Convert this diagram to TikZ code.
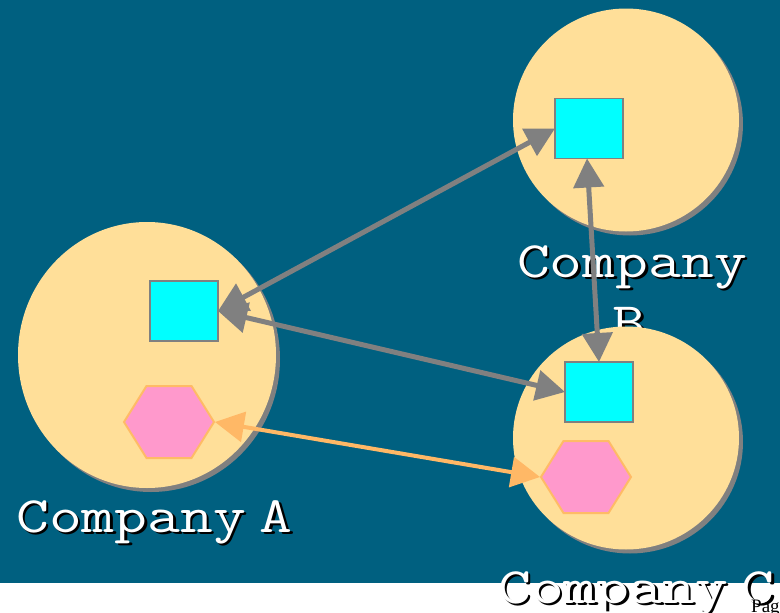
\documentclass[tikz,border=0pt]{standalone}
\usepackage{fontspec}
\usepackage{graphicx}
\newfontfamily\pagefont{Liberation Serif}
\usetikzlibrary{arrows.meta}
\definecolor{bgblue}{RGB}{0,96,128}
\definecolor{sand}{RGB}{255,223,153}
\definecolor{shadowgray}{RGB}{128,128,128}
\definecolor{boxcyan}{RGB}{0,255,255}
\definecolor{hexpink}{RGB}{255,153,204}
\definecolor{hexedge}{RGB}{255,187,102}
\definecolor{arrgray}{RGB}{128,128,128}
\definecolor{arrorange}{RGB}{255,184,102}
\newcommand{\widelab}[1]{\scalebox{1.25}[1]{#1}}
\tikzset{
  companyfill/.style={fill=sand},
  companyshadow/.style={fill=shadowgray},
  sysbox/.style={draw=shadowgray, line width=1.5pt, fill=boxcyan, minimum width=68pt, minimum height=60pt, inner sep=0pt, outer sep=0pt},
  hexshape/.style={draw=hexedge, line width=2pt, fill=hexpink, line join=miter},
  grayarrow/.style={draw=arrgray, line width=5pt, {Triangle[length=29pt,width=30pt]}-{Triangle[length=29pt,width=30pt]}},
  orangearrow/.style={draw=arrorange, line width=4pt, {Triangle[length=29pt,width=30pt]}-{Triangle[length=29pt,width=30pt]}},
  labtext/.style={text=white, font=\ttfamily\fontsize{51}{60}\selectfont, inner sep=0pt},
  labshadow/.style={text=black, font=\ttfamily\fontsize{51}{60}\selectfont, inner sep=0pt},
}
\begin{document}
\begin{tikzpicture}[x=1pt,y=-1pt]
\useasboundingbox (0,0) rectangle (780,613);
\fill[white] (0,0) rectangle (780,613);
\fill[bgblue] (0,0) rectangle (780,583);
% Company A
\fill[companyshadow] (151,359) ellipse [x radius=129, y radius=133];
\fill[companyfill] (147,355) ellipse [x radius=129, y radius=133];
% Company B
\fill[companyshadow] (630,124) ellipse [x radius=113, y radius=111.5];
\fill[companyfill] (626,120) ellipse [x radius=113, y radius=111.5];
% label B
\node[labshadow, anchor=base] (labBs) at (634.5,279.5) {\widelab{Company}};
\node[labtext, anchor=base] (labB) at (632,277) {\widelab{Company}};
\node[labshadow, anchor=base] (labBs2) at (631.5,340.5) {\widelab{B}};
\node[labtext, anchor=base] (labB2) at (629,338) {\widelab{B}};
% Company C
\fill[companyshadow] (630,442) ellipse [x radius=113, y radius=111.5];
\fill[companyfill] (626,438) ellipse [x radius=113, y radius=111.5];
% boxes
\node[sysbox] (sqA) at (184,311) {};
\node[sysbox] (sqB) at (589,128.5) {};
\node[sysbox] (sqC) at (599,392) {};
% hexagons
\filldraw[hexshape] (124,422) -- (146.5,386) -- (191.5,386) -- (214,422) -- (191.5,458) -- (146.5,458) -- cycle;
\coordinate (hexA) at (215,422);
\filldraw[hexshape] (541,477) -- (563.5,441) -- (608.5,441) -- (631,477) -- (608.5,513) -- (563.5,513) -- cycle;
\coordinate (hexC) at (540,477);
% connectors
\draw[grayarrow] (sqA.east) -- (sqB.west);
\draw[grayarrow] (sqA.east) -- (sqC.west);
\draw[grayarrow] ([xshift=-2pt]sqB.south) -- (sqC.north);
\draw[orangearrow] (hexA) -- (hexC);
% labels A and C
\node[labshadow, anchor=base west] (labAs) at (18.5,534.5) {\widelab{Company\kern-0.3em\ A}};
\node[labtext, anchor=base west] (labA) at (16,532) {\widelab{Company\kern-0.3em\ A}};
\node[labshadow, anchor=base west] (labCs) at (500.5,605.5) {\widelab{Company\kern-0.3em\ C}};
\node[labtext, anchor=base west] (labC) at (498,603) {\widelab{Company\kern-0.3em\ C}};
% page
\node[anchor=base west, inner sep=0pt, font=\pagefont\fontsize{19}{24}\selectfont] (page) at (751,612) {Page};
\end{tikzpicture}
\end{document}
